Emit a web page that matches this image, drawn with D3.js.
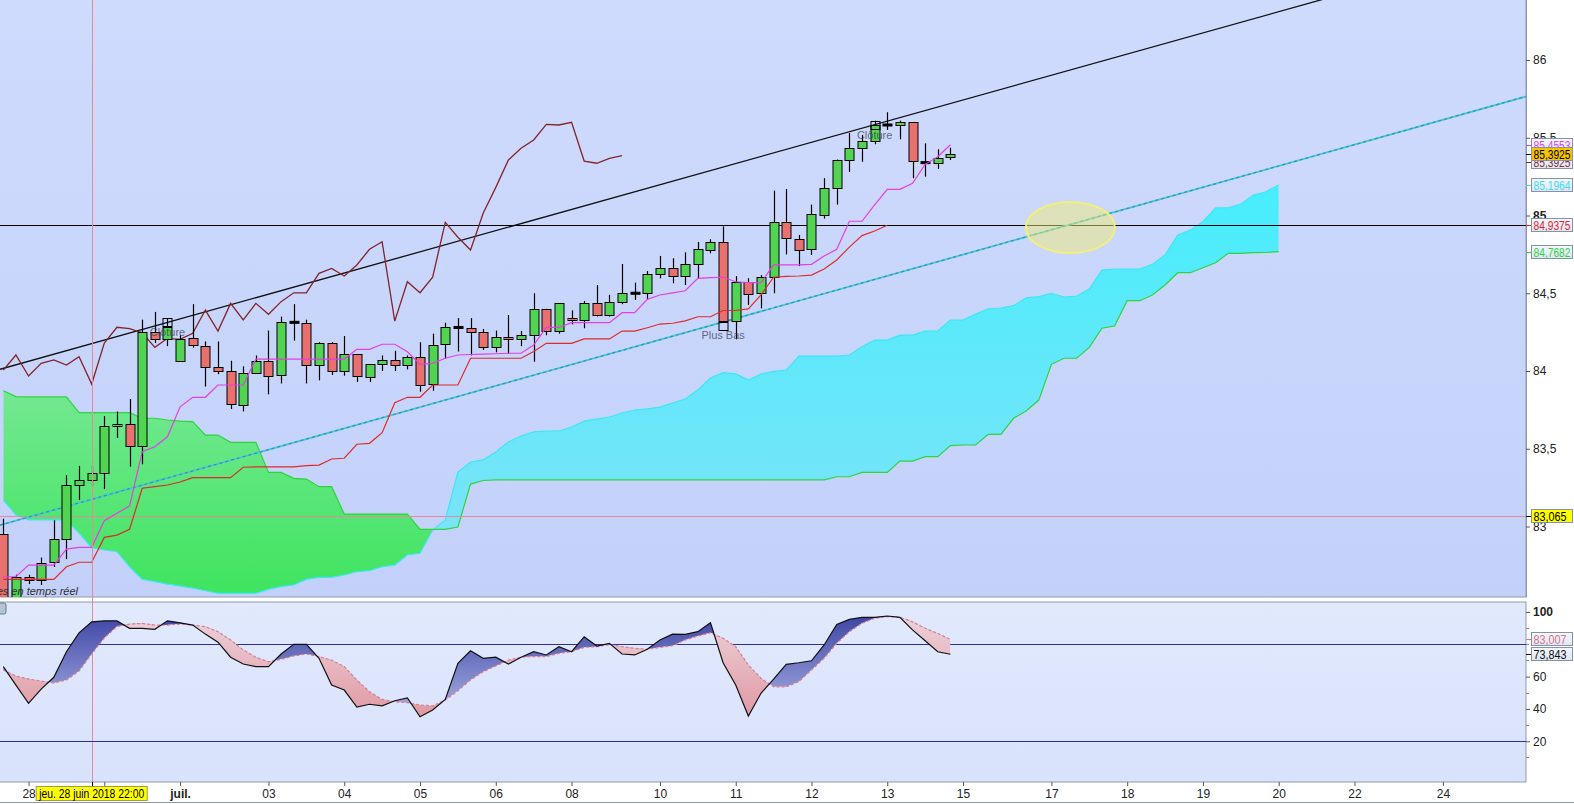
<!DOCTYPE html>
<html>
<head>
<meta charset="utf-8">
<script src="https://cdnjs.cloudflare.com/ajax/libs/d3/7.8.5/d3.min.js"></script>
<style>
  body { margin: 0; background: #fff; }
  svg text { font-family: "Liberation Sans", Arial, sans-serif; }
</style>
</head>
<body>
<svg id="chart" width="1574" height="804"></svg>
<script>
// 4h candles, index 0 = first visible bar
var opens = [82.95, 82.47, 82.673, 82.656, 82.77, 82.918, 83.27, 83.30, 83.342, 83.646,
  83.657, 83.515, 84.249, 84.206, 84.066, 84.21, 84.163, 84.028, 84.00, 83.786,
  83.99, 84.066, 83.97, 84.313, 84.307, 84.04, 84.18, 84.00, 84.107, 83.96,
  84.043, 84.069, 84.04, 84.093, 83.916, 84.17, 84.28, 84.275, 84.25, 84.153,
  84.217, 84.206, 84.23, 84.397, 84.253, 84.34, 84.324, 84.435, 84.36, 84.445,
  84.50, 84.50, 84.622, 84.66, 84.61, 84.688, 84.783, 84.832, 84.324, 84.575,
  84.50, 84.603, 84.956, 84.847, 84.78, 85.008, 85.18, 85.357, 85.432, 85.48,
  85.582, 85.582, 85.60, 85.34, 85.335, 85.37];
var highs = [83.05, 82.69, 82.69, 82.80, 83.04, 83.33, 83.39, 83.39, 83.71, 83.74,
  83.82, 84.33, 84.38, 84.34, 84.23, 84.43, 84.19, 84.19, 84.066, 84.03,
  84.10, 84.26, 84.35, 84.43, 84.33, 84.185, 84.185, 84.225, 84.11, 84.045,
  84.10, 84.13, 84.10, 84.185, 84.24, 84.31, 84.34, 84.34, 84.27, 84.26,
  84.36, 84.257, 84.50, 84.40, 84.435, 84.39, 84.45, 84.553, 84.49, 84.688,
  84.568, 84.643, 84.74, 84.725, 84.763, 84.83, 84.847, 84.93, 84.61, 84.597,
  84.617, 85.16, 85.17, 84.875, 85.07, 85.24, 85.36, 85.53, 85.518, 85.61,
  85.664, 85.61, 85.60, 85.464, 85.426, 85.436];
var lows = [82.40, 82.42, 82.63, 82.624, 82.74, 82.79, 83.17, 83.26, 83.24, 83.57,
  83.385, 83.40, 84.18, 84.16, 84.06, 84.15, 83.90, 83.98, 83.755, 83.74,
  83.99, 83.85, 83.92, 84.195, 83.92, 83.94, 83.975, 83.97, 83.93, 83.93,
  84.00, 84.00, 84.01, 83.867, 83.873, 84.08, 84.125, 84.10, 84.135, 84.12,
  84.11, 84.16, 84.06, 84.23, 84.24, 84.30, 84.275, 84.35, 84.35, 84.43,
  84.457, 84.463, 84.596, 84.564, 84.553, 84.596, 84.757, 84.317, 84.204, 84.425,
  84.403, 84.50, 84.75, 84.675, 84.746, 84.98, 85.07, 85.28, 85.346, 85.458,
  85.55, 85.49, 85.24, 85.25, 85.30, 85.357];
var closes = [82.45, 82.673, 82.655, 82.767, 82.918, 83.265, 83.30, 83.342, 83.646, 83.657,
  83.515, 84.249, 84.205, 84.285, 84.206, 84.163, 84.028, 84.00, 83.786, 83.99,
  84.066, 83.97, 84.313, 84.31, 84.04, 84.18, 84.00, 84.107, 83.964, 84.043,
  84.069, 84.04, 84.093, 83.916, 84.17, 84.28, 84.275, 84.25, 84.153, 84.217,
  84.206, 84.23, 84.397, 84.253, 84.435, 84.33, 84.435, 84.36, 84.445, 84.50,
  84.50, 84.622, 84.66, 84.61, 84.688, 84.783, 84.832, 84.324, 84.575, 84.50,
  84.603, 84.956, 84.853, 84.774, 85.008, 85.18, 85.357, 85.432, 85.48, 85.582,
  85.582, 85.60, 85.35, 85.34, 85.368, 85.3925];

// ichimoku lines
var tenkan = [82.677, 82.677, 82.752, 82.752, 82.752, 82.855, 82.866, 82.866, 83.037, 83.085,
  83.132, 83.481, 83.513, 83.577, 83.770, 83.831, 83.831, 83.910, 83.910, 83.910,
  84.077, 84.077, 84.077, 84.077, 84.077, 84.077, 84.077, 84.077, 84.139, 84.139,
  84.172, 84.172, 84.124, 84.043, 84.049, 84.082, 84.103, 84.106, 84.109, 84.111,
  84.114, 84.114, 84.167, 84.280, 84.280, 84.311, 84.311, 84.311, 84.311, 84.375,
  84.375, 84.461, 84.489, 84.502, 84.516, 84.596, 84.601, 84.603, 84.574, 84.568,
  84.568, 84.682, 84.682, 84.682, 84.686, 84.740, 84.783, 84.963, 84.963, 85.068,
  85.168, 85.168, 85.207, 85.329, 85.378, 85.4553];
var kijun = [82.660, 82.660, 82.660, 82.660, 82.660, 82.741, 82.770, 82.770, 82.930, 82.945,
  82.982, 83.246, 83.256, 83.267, 83.286, 83.314, 83.314, 83.314, 83.314, 83.381,
  83.383, 83.383, 83.383, 83.383, 83.391, 83.395, 83.434, 83.439, 83.529, 83.535,
  83.603, 83.796, 83.831, 83.831, 83.910, 83.910, 83.910, 84.082, 84.082, 84.082,
  84.082, 84.082, 84.125, 84.178, 84.178, 84.178, 84.206, 84.206, 84.206, 84.257,
  84.257, 84.278, 84.302, 84.307, 84.322, 84.349, 84.349, 84.389, 84.389, 84.399,
  84.489, 84.603, 84.608, 84.611, 84.617, 84.656, 84.714, 84.797, 84.871, 84.900,
  84.9375];
var chikou = [84.006, 84.103, 83.968, 84.049, 84.071, 84.038, 84.092, 83.916, 84.180, 84.281,
  84.272, 84.246, 84.152, 84.210, 84.204, 84.242, 84.392, 84.257, 84.435, 84.328,
  84.435, 84.365, 84.446, 84.503, 84.503, 84.628, 84.660, 84.611, 84.682, 84.783,
  84.831, 84.321, 84.574, 84.503, 84.603, 84.956, 84.860, 84.778, 85.014, 85.181,
  85.357, 85.432, 85.486, 85.586, 85.582, 85.599, 85.350, 85.336, 85.368, 85.385];
var spanA = [83.170, 83.074, 83.042, 83.042, 83.042, 83.042, 82.958, 82.864, 82.849, 82.838,
  82.741, 82.660, 82.645, 82.630, 82.617, 82.604, 82.587, 82.570, 82.570, 82.570,
  82.570, 82.596, 82.613, 82.624, 82.660, 82.673, 82.673, 82.688, 82.709, 82.716,
  82.741, 82.752, 82.817, 82.828, 82.977, 83.042, 83.350, 83.415, 83.428, 83.479,
  83.543, 83.582, 83.608, 83.614, 83.614, 83.640, 83.678, 83.691, 83.704, 83.730,
  83.749, 83.756, 83.768, 83.794, 83.820, 83.878, 83.955, 83.989, 83.981, 83.942,
  83.981, 83.997, 84.006, 84.096, 84.096, 84.096, 84.096, 84.103, 84.156, 84.199,
  84.199, 84.231, 84.231, 84.257, 84.257, 84.328, 84.328, 84.367, 84.399, 84.405,
  84.420, 84.471, 84.478, 84.500, 84.476, 84.482, 84.527, 84.649, 84.656, 84.656,
  84.656, 84.686, 84.746, 84.875, 84.907, 84.960, 85.050, 85.050, 85.074, 85.132,
  85.153, 85.1964];
var spanB = [83.873, 83.835, 83.833, 83.833, 83.833, 83.833, 83.732, 83.732, 83.732, 83.732,
  83.732, 83.696, 83.696, 83.685, 83.678, 83.674, 83.588, 83.588, 83.541, 83.541,
  83.541, 83.348, 83.348, 83.310, 83.305, 83.256, 83.256, 83.080, 83.080, 83.080,
  83.080, 83.080, 83.080, 82.982, 82.982, 82.982, 82.997, 83.273, 83.296, 83.300,
  83.300, 83.300, 83.300, 83.300, 83.300, 83.300, 83.300, 83.300, 83.300, 83.300,
  83.300, 83.300, 83.300, 83.300, 83.300, 83.300, 83.300, 83.300, 83.300, 83.300,
  83.300, 83.300, 83.300, 83.300, 83.300, 83.300, 83.320, 83.320, 83.348, 83.348,
  83.348, 83.421, 83.421, 83.449, 83.449, 83.520, 83.524, 83.524, 83.593, 83.593,
  83.696, 83.743, 83.813, 84.043, 84.082, 84.082, 84.152, 84.275, 84.289, 84.452,
  84.452, 84.489, 84.553, 84.632, 84.632, 84.664, 84.696, 84.757, 84.757, 84.761,
  84.762, 84.7682];

// stochastic %K and %D
var stochK = [66.2, 54.8, 43.5, 52.3, 59.6, 75.4, 87.1, 93.9, 94.5, 94.5,
  89.9, 89.9, 89.3, 94.5, 93.3, 91.9, 86.3, 81.3, 72.0, 67.8,
  66.2, 66.2, 74.0, 80.0, 80.0, 71.3, 54.8, 51.7, 41.1, 42.9,
  41.9, 45.1, 46.9, 35.2, 39.4, 45.9, 68.2, 76.0, 71.3, 72.0,
  67.8, 72.0, 75.4, 73.4, 78.5, 75.4, 84.7, 78.9, 80.6, 74.0,
  73.4, 76.9, 82.7, 86.3, 86.1, 87.8, 93.3, 68.6, 54.8, 35.6,
  49.7, 58.4, 67.6, 68.6, 69.8, 79.6, 92.3, 95.4, 96.7, 96.7,
  97.5, 96.7, 88.9, 82.2, 75.4, 73.843];
var stochD = [64.1, 60.4, 58.5, 57.3, 56.1, 57.9, 63.5, 74.0, 83.9, 91.0,
  92.5, 92.9, 91.9, 91.9, 92.5, 91.9, 90.9, 87.8, 82.7, 76.5,
  72.0, 69.2, 70.7, 72.8, 74.0, 72.4, 70.2, 66.2, 57.9, 50.7,
  45.9, 44.5, 43.9, 42.5, 41.9, 45.5, 51.3, 57.9, 63.0, 66.6,
  70.2, 72.0, 72.4, 72.4, 74.4, 75.4, 78.1, 78.5, 79.9, 78.5,
  77.5, 76.9, 78.1, 79.1, 82.7, 85.1, 87.1, 83.7, 78.5, 67.2,
  59.0, 53.7, 53.7, 56.9, 64.1, 71.3, 80.6, 87.8, 93.0, 96.1,
  97.1, 96.7, 93.9, 89.9, 86.7, 83.007];

// the tick at 8 has its label hidden under the crosshair date
var dayTicks = [2, 8, 14, 21, 27, 33, 39, 45, 52, 58, 64, 70, 76, 83, 89, 95, 101, 107, 114];
var dayLabels = ["28", "", "juil.", "03", "04", "05", "06", "08", "10", "11", "12", "13", "15", "17", "18", "19", "20", "22", "24"];
var priceTicks = [83, 83.5, 84, 84.5, 85, 85.5, 86];
var oscTicks = [100, 60, 40, 20];
var oscMinor = [90, 80, 70, 50, 30, 10];
var oscLevels = [80, 20];

var trendBlack = [[0, 84.017], [100, 86.288]];
var trendCyan = [[0, 83.015], [100, 85.296]];
var supportLevel = 84.9375;
var crossIndex = 7, crossPrice = 83.065;
var crossLabel = "jeu. 28 juin 2018 22:00";
var zoneCenter = [84.5, 84.923];
var notes = [[13, "Clôture", "high"], [69, "Clôture", "high"], [57, "Plus Bas", "low"]];

var lastTenkan = "85,4553", lastClose = "85,3925", lastSpanA = "85,1964",
    lastKijun = "84,9375", lastSpanB = "84,7682", crossText = "83,065";
var lastK = "73,843", lastD = "83,007";

// ---------- layout ----------
var plotR = 1526, mainB = 597, oscT = 602, oscB = 782;
var x = d3.scaleLinear().domain([0, 100]).range([3.3, 1266.1]);
var y = d3.scaleLinear().domain([83, 86]).range([526.5, 60]);
var yo = d3.scaleLinear().domain([20, 80]).range([741.3, 644.3]);

var svg = d3.select('#chart');
var defs = svg.append('defs');

function grad(id, y1, y2, c1, c2) {
  var g = defs.append('linearGradient').attr('id', id).attr('gradientUnits', 'userSpaceOnUse')
    .attr('x1', 0).attr('x2', 0).attr('y1', y1).attr('y2', y2);
  g.append('stop').attr('offset', 0).attr('stop-color', c1);
  g.append('stop').attr('offset', 1).attr('stop-color', c2);
}
grad('bgMain', 0, mainB, '#cfdbfd', '#c3d1fa');
grad('bgOsc', oscT, oscB, '#e1e9fd', '#d8e2fb');
grad('gGreen', 390, 596, '#74e892', '#3ee45e');
grad('gCyan', 180, 530, '#46eefc', '#7ae3f8');
grad('gBlue', 612, 715, '#3a42a2', '#aab2e6');
grad('gPink', 612, 715, '#eed4dc', '#e09aa4');
grad('gTag', 0, 1, '#f4f7fd', '#dfe6f4');
defs.select('#gTag').attr('gradientUnits', 'objectBoundingBox');

defs.append('clipPath').attr('id', 'clipMain').append('rect')
  .attr('x', 0).attr('y', 0).attr('width', plotR).attr('height', mainB);
defs.append('clipPath').attr('id', 'clipOsc').append('rect')
  .attr('x', 0).attr('y', oscT).attr('width', plotR).attr('height', oscB - oscT);

// panels
svg.append('rect').attr('x', -1).attr('y', -1).attr('width', plotR + 1).attr('height', mainB + 1)
  .attr('fill', 'url(#bgMain)').attr('stroke', '#8c9bab');
svg.append('rect').attr('x', -1).attr('y', oscT).attr('width', plotR + 1).attr('height', oscB - oscT)
  .attr('fill', 'url(#bgOsc)').attr('stroke', '#8c9bab');
svg.append('line').attr('x1', 0).attr('x2', 1574).attr('y1', 802.5).attr('y2', 802.5)
  .attr('stroke', '#8c9bab');

var main = svg.append('g').attr('clip-path', 'url(#clipMain)');

// ---------- cloud ----------
var cIdx = d3.range(spanA.length);
var between = d3.area().x(function (i) { return x(i) })
  .y0(function (i) { return y(spanA[i]) }).y1(function (i) { return y(spanB[i]) });
var aboveA = d3.area().x(function (i) { return x(i) })
  .y0(function (i) { return y(spanA[i]) }).y1(-5);
var belowA = d3.area().x(function (i) { return x(i) })
  .y0(function (i) { return y(spanA[i]) }).y1(mainB + 5);
defs.append('clipPath').attr('id', 'cAbove').append('path').attr('d', aboveA(cIdx));
defs.append('clipPath').attr('id', 'cBelow').append('path').attr('d', belowA(cIdx));
main.append('g').attr('clip-path', 'url(#cAbove)').append('path')
  .attr('d', between(cIdx)).attr('fill', 'url(#gGreen)');
main.append('g').attr('clip-path', 'url(#cBelow)').append('path')
  .attr('d', between(cIdx)).attr('fill', 'url(#gCyan)');

function priceLine(arr) {
  return d3.line().x(function (d, i) { return x(i) }).y(function (d) { return y(d) })(arr);
}
main.append('path').attr('d', priceLine(spanA)).attr('fill', 'none').attr('stroke', '#3ee6f6').attr('stroke-width', 1.2);
main.append('path').attr('d', priceLine(spanB)).attr('fill', 'none').attr('stroke', '#2ed43e').attr('stroke-width', 1.2);

// horizontal levels + crosshair
main.append('line').attr('x1', 0).attr('x2', plotR).attr('y1', Math.round(y(supportLevel)) + 0.5)
  .attr('y2', Math.round(y(supportLevel)) + 0.5).attr('stroke', '#000').attr('stroke-width', 1.2);
main.append('line').attr('x1', 0).attr('x2', plotR).attr('y1', Math.round(y(crossPrice)) + 0.5)
  .attr('y2', Math.round(y(crossPrice)) + 0.5).attr('stroke', '#e48a98');
svg.append('line').attr('x1', Math.round(x(crossIndex)) + 0.5).attr('x2', Math.round(x(crossIndex)) + 0.5)
  .attr('y1', 0).attr('y2', oscB).attr('stroke', '#e48a98');

// trend lines, extended across the panel
function trendPath(t) {
  var i0 = x.invert(0), i1 = x.invert(plotR);
  var slope = (t[1][1] - t[0][1]) / (t[1][0] - t[0][0]);
  return [[0, y(t[0][1] + slope * (i0 - t[0][0]))], [plotR, y(t[0][1] + slope * (i1 - t[0][0]))]];
}
main.append('path').attr('d', d3.line()(trendPath(trendBlack)))
  .attr('stroke', '#111').attr('stroke-width', 1.3).attr('fill', 'none');
var cyanPts = trendPath(trendCyan);
main.append('path').attr('d', d3.line()(cyanPts))
  .attr('stroke', '#4cc4d8').attr('stroke-width', 1.8).attr('fill', 'none');
main.append('path').attr('d', d3.line()(cyanPts))
  .attr('stroke', '#2a98b0').attr('stroke-width', 1.2).attr('stroke-dasharray', '3,3').attr('fill', 'none');

// highlighted zone
main.append('ellipse').attr('cx', x(zoneCenter[0])).attr('cy', y(zoneCenter[1]))
  .attr('rx', 44.5).attr('ry', 25.5)
  .attr('fill', 'rgb(240,236,120)').attr('fill-opacity', 0.5)
  .attr('stroke', '#f2f078').attr('stroke-width', 2);

// chikou
main.append('path').attr('d', priceLine(chikou)).attr('fill', 'none')
  .attr('stroke', '#84242a').attr('stroke-width', 1.3);

// ---------- candles ----------
var bars = d3.range(closes.length);
var cg = main.append('g');
cg.selectAll('line.wick').data(bars).enter().append('line')
  .attr('x1', function (i) { return Math.round(x(i)) + 0.5 })
  .attr('x2', function (i) { return Math.round(x(i)) + 0.5 })
  .attr('y1', function (i) { return y(highs[i]) })
  .attr('y2', function (i) { return y(lows[i]) })
  .attr('stroke', '#000').attr('stroke-width', 1.2);
cg.selectAll('rect.body').data(bars).enter().append('rect')
  .attr('x', function (i) { return Math.round(x(i)) - 4 })
  .attr('width', 9)
  .attr('y', function (i) {
    var top = y(Math.max(opens[i], closes[i]));
    return Math.abs(opens[i] - closes[i]) < 0.007 ? top - 1 : Math.round(top) + 0.5;
  })
  .attr('height', function (i) {
    if (Math.abs(opens[i] - closes[i]) < 0.007) return 2;
    return Math.max(1, Math.round(Math.abs(y(opens[i]) - y(closes[i]))));
  })
  .attr('fill', function (i) {
    if (Math.abs(opens[i] - closes[i]) < 0.007) return '#000';
    return closes[i] > opens[i] ? '#52d352' : '#e8706e';
  })
  .attr('stroke', '#000').attr('stroke-width', 1);

// annotation boxes and their labels (label is half see-through over the bars)
notes.forEach(function (n) {
  var by = n[2] === 'high' ? y(highs[n[0]]) : y(lows[n[0]]);
  main.append('rect').attr('x', Math.round(x(n[0])) - 4).attr('y', Math.round(by) + 0.5)
    .attr('width', 9).attr('height', 8).attr('fill', 'none').attr('stroke', '#000');
  var ty = n[2] === 'high' ? by + 18 : by + 17;
  main.append('text').attr('x', x(n[0])).attr('y', ty).attr('text-anchor', 'middle')
    .attr('font-size', 11).attr('fill', '#3a4050').attr('fill-opacity', 0.75).text(n[1]);
});

// kijun / tenkan on top
main.append('path').attr('d', priceLine(kijun)).attr('fill', 'none')
  .attr('stroke', '#e02a2a').attr('stroke-width', 1.2);
main.append('path').attr('d', priceLine(tenkan)).attr('fill', 'none')
  .attr('stroke', '#e43ee4').attr('stroke-width', 1.2);

main.append('text').attr('x', 78).attr('y', 595).attr('text-anchor', 'end')
  .attr('font-size', 11).attr('font-style', 'italic').attr('fill', '#303030')
  .text('Données en temps réel');

// ---------- oscillator ----------
var osc = svg.append('g').attr('clip-path', 'url(#clipOsc)');
oscLevels.forEach(function (v) {
  osc.append('line').attr('x1', 0).attr('x2', plotR)
    .attr('y1', Math.round(yo(v)) + 0.5).attr('y2', Math.round(yo(v)) + 0.5)
    .attr('stroke', '#30309c').attr('stroke-width', 1.2);
});
var oIdx = d3.range(stochK.length);
var kdArea = d3.area().x(function (i) { return x(i) })
  .y0(function (i) { return yo(stochK[i]) }).y1(function (i) { return yo(stochD[i]) });
defs.append('clipPath').attr('id', 'dAbove').append('path')
  .attr('d', d3.area().x(function (i) { return x(i) }).y0(function (i) { return yo(stochD[i]) }).y1(oscT)(oIdx));
defs.append('clipPath').attr('id', 'dBelow').append('path')
  .attr('d', d3.area().x(function (i) { return x(i) }).y0(function (i) { return yo(stochD[i]) }).y1(oscB)(oIdx));
osc.append('g').attr('clip-path', 'url(#dAbove)').append('path')
  .attr('d', kdArea(oIdx)).attr('fill', 'url(#gBlue)');
osc.append('g').attr('clip-path', 'url(#dBelow)').append('path')
  .attr('d', kdArea(oIdx)).attr('fill', 'url(#gPink)');
var oscLine = function (arr) {
  return d3.line().x(function (d, i) { return x(i) }).y(function (d) { return yo(d) })(arr);
};
osc.append('path').attr('d', oscLine(stochD)).attr('fill', 'none')
  .attr('stroke', '#dc7c8c').attr('stroke-width', 1.2).attr('stroke-dasharray', '3,2');
osc.append('path').attr('d', oscLine(stochK)).attr('fill', 'none')
  .attr('stroke', '#111').attr('stroke-width', 1.2);
svg.append('rect').attr('x', -6).attr('y', oscT + 1).attr('width', 12).attr('height', 11).attr('rx', 2)
  .attr('fill', '#b4c4d4').attr('stroke', '#6c7c8c');

// ---------- axes ----------
var font = '"Liberation Sans", Arial, sans-serif';
var ya = svg.append('g').attr('transform', 'translate(' + plotR + ',0)')
  .call(d3.axisRight(y).tickValues(priceTicks).tickSize(4).tickPadding(3)
    .tickFormat(function (d) { return String(d).replace('.', ',') }));
ya.select('.domain').attr('stroke', '#8c9bab').attr('d', 'M0.5,0V' + mainB);
ya.attr('font-family', font);
ya.selectAll('.tick line').attr('stroke', '#555');
ya.selectAll('text').attr('font-size', 12).attr('fill', '#222')
  .attr('font-weight', function (d) { return d === 85 ? 'bold' : 'normal' });

var yoa = svg.append('g').attr('transform', 'translate(' + plotR + ',0)')
  .call(d3.axisRight(yo).tickValues(oscTicks).tickSize(4).tickPadding(3));
yoa.select('.domain').remove();
yoa.attr('font-family', font);
yoa.selectAll('.tick line').attr('stroke', '#555');
yoa.selectAll('text').attr('font-size', 12).attr('fill', '#222')
  .attr('font-weight', function (d) { return d === 100 ? 'bold' : 'normal' });
oscMinor.forEach(function (v) {
  svg.append('line').attr('x1', plotR).attr('x2', plotR + 3)
    .attr('y1', Math.round(yo(v)) + 0.5).attr('y2', Math.round(yo(v)) + 0.5).attr('stroke', '#888');
});

var xa = svg.append('g').attr('transform', 'translate(0,' + oscB + ')')
  .call(d3.axisBottom(x).tickValues(dayTicks).tickSize(4).tickPadding(3)
    .tickFormat(function (d, k) { return dayLabels[k] }));
xa.select('.domain').remove();
xa.attr('font-family', font);
xa.selectAll('.tick line').attr('stroke', '#555');
xa.selectAll('text').attr('font-size', 12).attr('fill', '#222')
  .attr('font-weight', function (d, k) { return dayLabels[k] === 'juil.' ? 'bold' : 'normal' });

// crosshair date label
var cx = x(crossIndex);
svg.append('line').attr('x1', Math.round(cx) + 0.5).attr('x2', Math.round(cx) + 0.5)
  .attr('y1', oscB).attr('y2', oscB + 5).attr('stroke', '#000');
svg.append('rect').attr('x', cx - 55.5).attr('y', 786.5).attr('width', 111).attr('height', 14)
  .attr('fill', '#ffff00').attr('stroke', '#9c9c50');
svg.append('text').attr('x', cx).attr('y', 798).attr('text-anchor', 'middle')
  .attr('font-size', 12).attr('fill', '#000')
  .attr('textLength', 105).attr('lengthAdjust', 'spacingAndGlyphs').text(crossLabel);

// value labels on the right axis
function valueTag(yy, txt, color, bg) {
  svg.append('line').attr('x1', plotR).attr('x2', plotR + 5)
    .attr('y1', Math.round(yy) + 0.5).attr('y2', Math.round(yy) + 0.5).attr('stroke', color);
  svg.append('rect').attr('x', plotR + 5.5).attr('y', Math.round(yy) - 6.5)
    .attr('width', 41).attr('height', 13).attr('fill', bg || 'url(#gTag)').attr('stroke', '#8494a6');
  svg.append('text').attr('x', plotR + 7.5).attr('y', Math.round(yy) + 4.5)
    .attr('font-size', 12).attr('fill', bg ? '#000' : color)
    .attr('textLength', txt.length > 6 ? 37 : 33).attr('lengthAdjust', 'spacingAndGlyphs').text(txt);
}
valueTag(y(85.3925) + 8, lastClose, '#8a2a2a');
valueTag(y(85.4553), lastTenkan, '#e040e0');
valueTag(y(85.3925), lastClose, '#000', '#f5c400');
valueTag(y(85.1964), lastSpanA, '#40dcf0');
valueTag(y(84.9375), lastKijun, '#e02828');
valueTag(y(84.7682), lastSpanB, '#2ed43e');
valueTag(y(crossPrice), crossText, '#000', '#ffff00');
valueTag(yo(83.007), lastD, '#dc7484');
valueTag(yo(73.843), lastK, '#111');
</script>
</body>
</html>
